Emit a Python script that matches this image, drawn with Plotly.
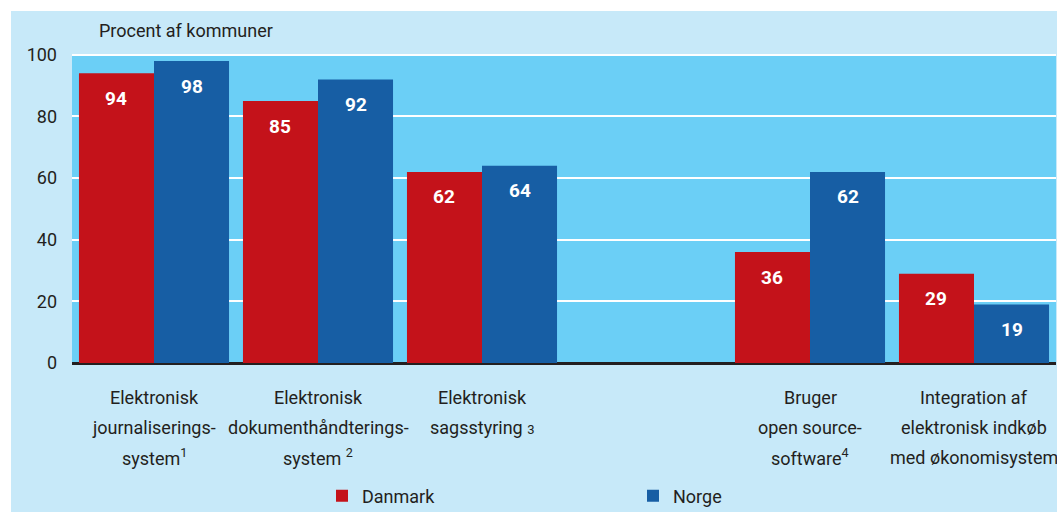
import plotly.graph_objects as go

# ---- data ----
categories = ["k1", "k2", "k3", "gap", "k5", "k6"]
category_labels = [
    ["Elektronisk", "journaliserings-", "system<sup>1</sup>"],
    ["Elektronisk", "dokumenthåndterings-", "system <sup>2</sup>"],
    ["Elektronisk", "sagsstyring <span style='font-size:13px'>3</span>"],
    [],
    ["Bruger", "open source-", "software<sup>4</sup>"],
    ["Integration af", "elektronisk indkøb", "med økonomisystem"],
]
danmark = [94, 85, 62, None, 36, 29]
norge = [98, 92, 64, None, 62, 19]
series_names = ["Danmark", "Norge"]
y_ticks = [0, 20, 40, 60, 80, 100]
y_title = "Procent af kommuner"

# ---- styles ----
RED = "#C4121A"
BLUE = "#175EA4"
PLOT_BG = "#6BCFF6"
LIGHT_BG = "#C7E9F9"
TXT = "#231F20"
FONT = "Roboto, 'Open Sans', sans-serif"

W, H = 1057, 512
ML, MR, MT, MB = 72, 1, 53, 149
PW = W - ML - MR
PH = H - MT - MB

fig = go.Figure()
fig.add_trace(go.Bar(x=categories, y=danmark, name=series_names[0], showlegend=True,
                     marker=dict(color=RED, line=dict(width=0)), legend="legend"))
fig.add_trace(go.Bar(x=categories, y=norge, name=series_names[1], showlegend=True,
                     marker=dict(color=BLUE, line=dict(width=0)), legend="legend2"))

annotations = []
# value labels
slot_px = PW / len(categories)
bargap = 0.085
half = slot_px * (1 - bargap) / 4
for vals, sx in ((danmark, -half), (norge, half)):
    for c, v in zip(categories, vals):
        if v is None:
            continue
        annotations.append(dict(x=c, y=v, xref="x", yref="y", text=f"<b>{v}</b>",
                                showarrow=False, xshift=sx, yshift=-25,
                                font=dict(family=FONT, size=19, color="white")))
# category labels
for c, lines in zip(categories, category_labels):
    for i, line in enumerate(lines):
        annotations.append(dict(x=c, y=0, xref="x", yref="paper", text=line,
                                showarrow=False, yanchor="middle",
                                yshift=-(34 + 30 * i),
                                font=dict(family=FONT, size=18, color=TXT)))
# axis title
annotations.append(dict(x=(97 - ML) / PW, y=(H - MB - 31) / PH, xref="paper", yref="paper",
                        text=y_title, showarrow=False, xanchor="left", yanchor="middle",
                        font=dict(family=FONT, size=18, color=TXT)))

shapes = [
    dict(type="rect", xref="paper", yref="paper", layer="below",
         x0=(11 - ML) / PW, x1=(W - ML) / PW + 0.01,
         y0=-(MB + 5) / PH, y1=(H - MB - 11) / PH,
         fillcolor=LIGHT_BG, line=dict(width=0)),
    dict(type="rect", xref="paper", yref="y", layer="below",
         x0=0, x1=1, y0=0, y1=100,
         fillcolor=PLOT_BG, line=dict(width=0)),
]

fig.update_layout(
    width=W, height=H, autosize=False,
    margin=dict(l=ML, r=MR, t=MT, b=MB, pad=0),
    paper_bgcolor="white", plot_bgcolor="rgba(0,0,0,0)",
    barmode="group", bargap=bargap, bargroupgap=0,
    font=dict(family=FONT, size=17, color=TXT),
    shapes=shapes, annotations=annotations, showlegend=True,
    legend=dict(orientation="h", xref="container", yref="container",
                x=322 / W, y=1 - 496 / H, xanchor="left", yanchor="middle",
                bgcolor="rgba(0,0,0,0)", font=dict(family=FONT, size=18, color=TXT)),
    legend2=dict(orientation="h", xref="container", yref="container",
                 x=633 / W, y=1 - 496 / H, xanchor="left", yanchor="middle",
                 bgcolor="rgba(0,0,0,0)", font=dict(family=FONT, size=18, color=TXT)),
)
fig.update_xaxes(type="category", categoryorder="array", categoryarray=categories,
                 range=[-0.5, len(categories) - 0.5], showticklabels=False,
                 showgrid=False, zeroline=False, showline=False, ticks="")
fig.update_yaxes(range=[0, 100.6], tickvals=y_ticks, showgrid=True, gridcolor="white",
                 gridwidth=2, zeroline=True, zerolinecolor=TXT, zerolinewidth=3,
                 showline=False, ticks="", ticklabelstandoff=14,
                 tickfont=dict(family=FONT, size=18, color=TXT))

fig.write_html("out.html", config={"displayModeBar": False},
               post_script="document.body.style.margin='0';document.body.style.padding='0';")
